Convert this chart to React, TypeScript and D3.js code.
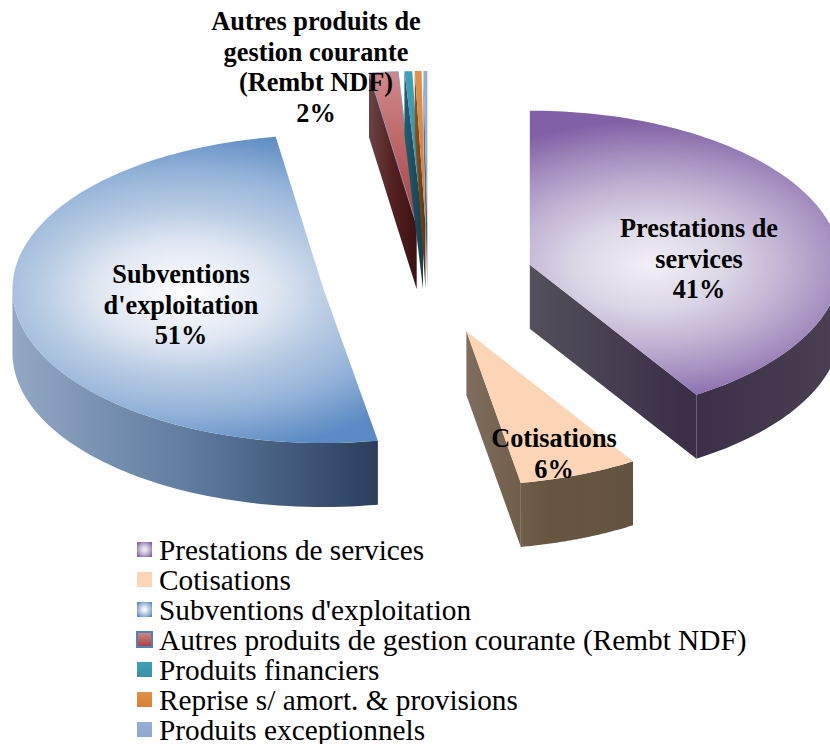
import React from 'react';
import * as d3 from 'd3';

const categories = [
  'Prestations de services',
  'Cotisations',
  "Subventions d'exploitation",
  'Autres produits de gestion courante (Rembt NDF)',
  'Produits financiers',
  'Reprise s/ amort. & provisions',
  'Produits exceptionnels',
];
const shares = [41, 6.2, 50.35, 1.5, 0.4, 0.35, 0.2];
const labelLines: string[][] = [
  ['Prestations de', 'services', '41%'],
  ['Cotisations', '6%'],
  ['Subventions', "d'exploitation", '51%'],
  ['Autres produits de', 'gestion courante', '(Rembt NDF)', '2%'],
];
const topStops: [number, string][][] = [
  [[0, '#f2f0f6'], [0.3, '#dcd6e6'], [0.55, '#c0b2d2'], [0.75, '#a690c0'], [1, '#8060a6']],
  [[0, '#fbd5b5'], [1, '#fbd5b5']],
  [[0, '#ffffff'], [0.3, '#e0e7f2'], [0.5, '#b8cce3'], [0.73, '#94b3d9'], [0.91, '#6d97c9'], [1, '#5a8bc5']],
  [[0, '#d08a8a'], [1, '#a83e40']],
  [[0, '#40a0b8'], [1, '#3a90a8']],
  [[0, '#e29048'], [1, '#d87f35']],
  [[0, '#98aed6'], [1, '#90a6d0']],
];
const sideStops: [string, string, string][] = [
  ['#55505c', '#3a2f47', '#4a4052'],
  ['#7f6e5e', '#66563f', '#635442'],
  ['#93a8c4', '#5d7a9e', '#2a3e5c'],
  ['#6a4444', '#54201f', '#3c1212'],
  ['#1f5f72', '#1a4f60', '#153f4e'],
  ['#8a5522', '#70441a', '#5a3512'],
  ['#6a7da0', '#55678a', '#45567a'],
];

const CX = 428;
const CY = 280;
const RX = 311;
const RY = 154;
const DEPTH = 64;
const EX = 106;
const EY = 55;

type Pt = [number, number];

export default function App() {
  const arcs = d3.pie<number>().sort(null)(shares);
  const line = d3.line<Pt>();

  const slices = arcs.map((a, i) => {
    const mid = (a.startAngle + a.endAngle) / 2;
    const cx = CX + EX * Math.sin(mid);
    const cy = CY - EY * Math.cos(mid);
    const pt = (t: number, dz = 0): Pt => [cx + RX * Math.sin(t), cy - RY * Math.cos(t) + dz];
    const faces: string[] = [];
    const xs: number[] = [cx];
    const wall = (t: number) => {
      const p = pt(t);
      xs.push(p[0]);
      faces.push(line([[cx, cy], p, [p[0], p[1] + DEPTH], [cx, cy + DEPTH]])! + 'Z');
    };
    if (Math.sin(a.startAngle) < 0) wall(a.startAngle);
    if (Math.sin(a.endAngle) > 0) wall(a.endAngle);
    const lo = Math.max(a.startAngle, Math.PI / 2);
    const hi = Math.min(a.endAngle, (3 * Math.PI) / 2);
    if (hi > lo) {
      const ts = d3.range(0, 61).map((k) => lo + ((hi - lo) * k) / 60);
      const pts = [...ts.map((t) => pt(t)), ...ts.slice().reverse().map((t) => pt(t, DEPTH))];
      pts.forEach((p) => xs.push(p[0]));
      faces.push(line(pts)! + 'Z');
    }
    const topPts: Pt[] = [
      [cx, cy],
      ...d3.range(0, 121).map((k) => pt(a.startAngle + ((a.endAngle - a.startAngle) * k) / 120)),
    ];
    const x0 = i === 0 ? cx : (d3.min(xs) as number);
    const x1 = i === 0 ? cx + RX : (d3.max(xs) as number);
    return { i, cx, cy, faces, x0, x1, top: line(topPts)! + 'Z' };
  });

  const legendY = d3.scalePoint<number>().domain(d3.range(categories.length)).range([550, 730]);
  const serif = '"Liberation Serif", serif';

  const labels: { lines: string[]; x: number; y: number }[] = [
    { lines: labelLines[0], x: 699, y: 237 },
    { lines: labelLines[1], x: 554, y: 447 },
    { lines: labelLines[2], x: 181, y: 283 },
    { lines: labelLines[3], x: 316, y: 30 },
  ];
  const radial: Record<number, string> = {
    0: 'translate(650,265) scale(250,145)',
    2: 'translate(185,292) scale(290,165)',
  };

  return (
    <svg
      width={830}
      height={744}
      viewBox="0 0 830 744"
      style={{ position: 'absolute', left: 0, top: 0, background: '#fff' }}
    >
      <defs>
        {topStops.map((stops, i) =>
          radial[i] ? (
            <radialGradient key={i} id={`top${i}`} gradientUnits="userSpaceOnUse" cx={0} cy={0} r={1} gradientTransform={radial[i]}>
              {stops.map(([o, c]) => <stop key={o} offset={o} stopColor={c} />)}
            </radialGradient>
          ) : (
            <linearGradient key={i} id={`top${i}`} x1="0" y1="0" x2="0" y2="1">
              {stops.map(([o, c]) => <stop key={o} offset={o} stopColor={c} />)}
            </linearGradient>
          )
        )}
        {[0, 2].map((i) => (
          <radialGradient key={i} id={`legend${i}`} cx="0.5" cy="0.5" r="0.62">
            {topStops[i].map(([o, c]) => <stop key={o} offset={o} stopColor={c} />)}
          </radialGradient>
        ))}
        {slices.map((s) => (
          <linearGradient key={s.i} id={`side${s.i}`} gradientUnits="userSpaceOnUse" x1={s.x0} y1={0} x2={s.x1} y2={0}>
            <stop offset={0} stopColor={sideStops[s.i][0]} />
            <stop offset={0.5} stopColor={sideStops[s.i][1]} />
            <stop offset={1} stopColor={sideStops[s.i][2]} />
          </linearGradient>
        ))}
      </defs>

      {slices.map((s) => (
        <g key={s.i}>
          {s.faces.map((d, k) => <path key={k} d={d} fill={`url(#side${s.i})`} />)}
          <path
            d={s.top}
            fill={`url(#top${s.i})`}
            stroke={s.i === 3 ? '#7f94c4' : 'none'}
            strokeWidth={s.i === 3 ? 0.8 : 0}
          />
        </g>
      ))}

      {labels.map((l, i) => (
        <text key={i} textAnchor="middle" fontFamily={serif} fontWeight="bold" fontSize={26.3} fill="#000">
          {l.lines.map((t, k) => (
            <tspan key={k} x={l.x} y={l.y + k * 30.7}>{t}</tspan>
          ))}
        </text>
      ))}

      {categories.map((c, i) => {
        const y = legendY(i)!;
        return (
          <g key={c}>
            <rect
              x={137}
              y={y - 8}
              width={15}
              height={15}
              fill={`url(#${radial[i] ? 'legend' : 'top'}${i})`}
              stroke={i === 3 ? '#4f81bd' : 'none'}
              strokeWidth={i === 3 ? 2 : 0}
            />
            <text x={159} y={y + 9.5} fontFamily={serif} fontSize={29.3} fill="#000">{c}</text>
          </g>
        );
      })}
    </svg>
  );
}
